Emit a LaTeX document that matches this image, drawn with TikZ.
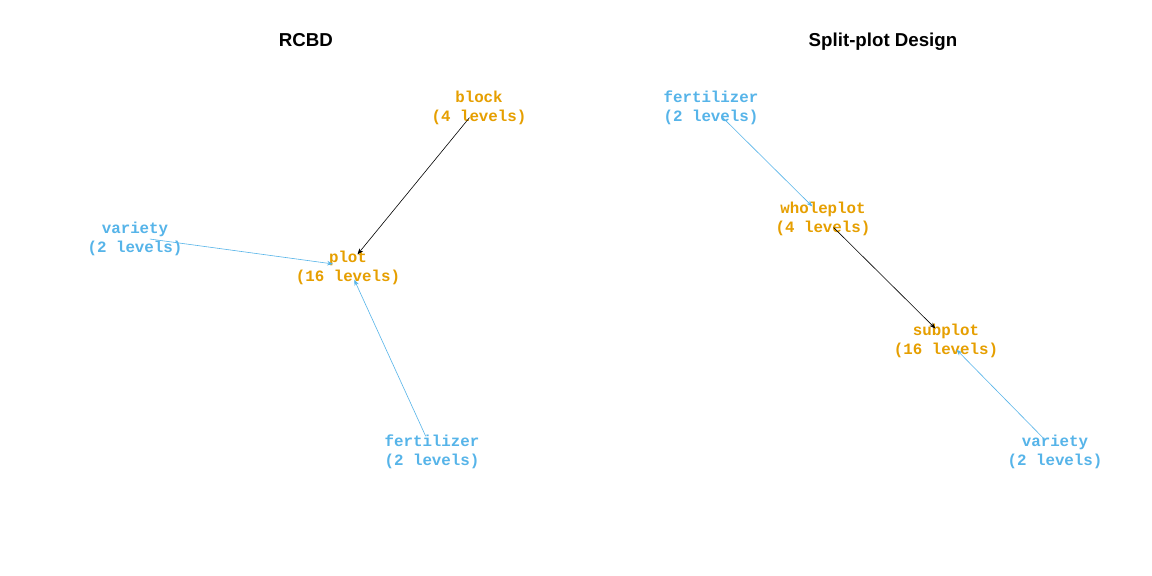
\documentclass[tikz,border=0pt]{standalone}
\usepackage{fontspec}
\setmainfont{Liberation Sans}
\newfontfamily\labelmono{Liberation Mono}
\usetikzlibrary{arrows.meta}
\definecolor{nodeorange}{HTML}{E69F00}
\definecolor{nodeblue}{HTML}{56B4E9}
\newcommand{\lblstrut}{\rule[-2.6pt]{0pt}{17.6pt}}
\tikzset{
  vlabel/.style={inner sep=0pt, align=center,
    font=\labelmono\bfseries\fontsize{15.8}{19}\selectfont},
  unitvar/.style={vlabel, text=nodeorange},
  treatvar/.style={vlabel, text=nodeblue},
  title/.style={inner sep=0pt, anchor=base, font=\bfseries\fontsize{18.7}{22}\selectfont},
  link/.style={line width=0.6pt, shorten <=15pt, shorten >=15pt,
    -{Stealth[length=6pt,width=4.5pt]}},
  blacklink/.style={link, draw=black},
  bluelink/.style={link, draw=nodeblue}
}
\begin{document}
\begin{tikzpicture}[x=1pt,y=-1pt]
\useasboundingbox[fill=white] (0,0) rectangle (1152,576);
% titles
\node[title] (t1) at (306,46.7) {RCBD};
\node[title] (t2) at (883,46.7) {Split-plot Design};
% RCBD
\node[unitvar]  (block) at (479,106) {\lblstrut block\\\lblstrut(4 levels)};
\node[unitvar]  (plot)  at (348,266) {\lblstrut plot\\\lblstrut(16 levels)};
\node[treatvar] (varL)  at (135,237) {\lblstrut variety\\\lblstrut(2 levels)};
\node[treatvar] (fertL) at (432,450) {\lblstrut fertilizer\\\lblstrut(2 levels)};
\draw[blacklink] (block.center) -- (plot.center);
\draw[bluelink]  (varL.center) -- (plot.center);
\draw[bluelink]  (fertL.center) -- (plot.center);
% Split-plot
\node[treatvar] (fertR) at (711,106) {\lblstrut fertilizer\\\lblstrut(2 levels)};
\node[unitvar]  (whole) at (823,217) {\lblstrut wholeplot\\\lblstrut(4 levels)};
\node[unitvar]  (sub)   at (946,339) {\lblstrut subplot\\\lblstrut(16 levels)};
\node[treatvar] (varR)  at (1055,450) {\lblstrut variety\\\lblstrut(2 levels)};
\draw[bluelink]  (fertR.center) -- (whole.center);
\draw[blacklink] (whole.center) -- (sub.center);
\draw[bluelink]  (varR.center) -- (sub.center);
\end{tikzpicture}
\end{document}
